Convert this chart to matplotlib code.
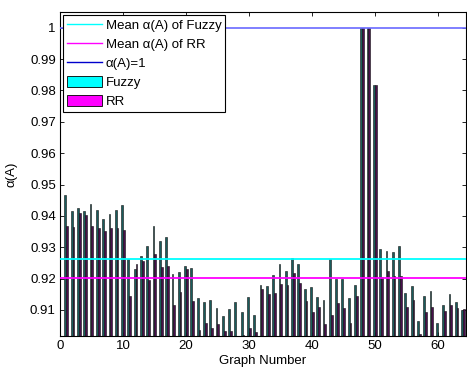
import numpy as np
import matplotlib
matplotlib.use('Agg')
import matplotlib.pyplot as plt
from matplotlib.patches import Patch
from matplotlib.lines import Line2D

plt.rcParams['font.family'] = ['Liberation Sans', 'DejaVu Sans']

# alpha(A) per graph
fuzzy = [0.9468, 0.9417, 0.9426, 0.9415, 0.9438, 0.9418, 0.9391, 0.9407, 0.9420, 0.9436,
         0.9263, 0.9230, 0.9272, 0.9305, 0.9369, 0.9321, 0.9334, 0.9214, 0.9221, 0.9240,
         0.9234, 0.9137, 0.9125, 0.9132, 0.9105, 0.9081, 0.9104, 0.9126, 0.9094, 0.9142,
         0.9084, 0.9180, 0.9178, 0.9213, 0.9247, 0.9224, 0.9267, 0.9247, 0.9168, 0.9174,
         0.9141, 0.9132, 0.9261, 0.9198, 0.9200, 0.9138, 0.9179, 1.0000, 1.0000, 0.9818,
         0.9295, 0.9288, 0.9284, 0.9305, 0.9155, 0.9176, 0.9064, 0.9144, 0.9161, 0.9057,
         0.9115, 0.9152, 0.9124, 0.9100]
rr = [0.9368, 0.9364, 0.9409, 0.9402, 0.9369, 0.9360, 0.9351, 0.9362, 0.9360, 0.9356,
      0.9146, 0.9247, 0.9257, 0.9195, 0.9280, 0.9237, 0.9240, 0.9116, 0.9156, 0.9231,
      0.9130, 0.9037, 0.9059, 0.9044, 0.9055, 0.9033, 0.9032, 0.9018, 0.9021, 0.9044,
      0.9031, 0.9168, 0.9152, 0.9154, 0.9183, 0.9180, 0.9217, 0.9186, 0.9129, 0.9094,
      0.9110, 0.9054, 0.9084, 0.9122, 0.9106, 0.9059, 0.9143, 1.0000, 1.0000, 0.9818,
      0.9206, 0.9224, 0.9207, 0.9207, 0.9110, 0.9132, 0.9023, 0.9094, 0.9110, 0.9017,
      0.9097, 0.9116, 0.9106, 0.9102]
graphs = np.arange(1, len(fuzzy) + 1)

mean_fuzzy = 0.9261
mean_rr = 0.9203
ideal = 1.0

yticks = [0.91, 0.92, 0.93, 0.94, 0.95, 0.96, 0.97, 0.98, 0.99, 1.0]
ytick_labels = ['0.91', '0.92', '0.93', '0.94', '0.95', '0.96', '0.97', '0.98', '0.99', '1']
xticks = [0, 10, 20, 30, 40, 50, 60]

fig = plt.figure(figsize=(4.67, 3.69), dpi=100)
ax = fig.add_axes([0.1285, 0.0894, 0.8695, 0.8781])

# bars are ~2px wide, so the black outline darkens them; use the blended tone directly
w = 0.29
ax.bar(graphs - w / 2, fuzzy, width=w, color='#1a5c5c', edgecolor='#101010', linewidth=0.4, zorder=2)
ax.bar(graphs + w / 2, rr, width=w, color='#4a0f4f', edgecolor='#101010', linewidth=0.4, zorder=2)

ax.axhline(mean_fuzzy, color='#00ffff', linewidth=1.3, zorder=3)
ax.axhline(mean_rr, color='#ff00ff', linewidth=1.3, zorder=3)
ax.axhline(ideal, color='#6a6aff', linewidth=1.2, zorder=3)

ax.set_xlim(0, 64.5)
ax.set_ylim(0.9017, 1.005)
ax.set_xticks(xticks)
ax.set_yticks(yticks)
ax.set_yticklabels(ytick_labels)
ax.tick_params(direction='in', length=3, width=0.6, labelsize=9.5, top=True, right=True, pad=3)
for s in ax.spines.values():
    s.set_linewidth(0.8)

ax.set_xlabel('Graph Number', fontsize=9.5, labelpad=2)
ax.set_ylabel('α(A)', fontsize=9.5, labelpad=9)

handles = [
    Line2D([], [], color='#00ffff', linewidth=1),
    Line2D([], [], color='#ff00ff', linewidth=1),
    Line2D([], [], color='#0000cc', linewidth=1),
    Patch(facecolor='#00ffff', edgecolor='black', linewidth=0.6),
    Patch(facecolor='#ff00ff', edgecolor='black', linewidth=0.6),
]
labels = ['Mean α(A) of Fuzzy', 'Mean α(A) of RR', 'α(A)=1', 'Fuzzy', 'RR']
leg = ax.legend(handles, labels, loc='upper left', fontsize=9.5, frameon=True, fancybox=False,
                framealpha=1, edgecolor='black', borderaxespad=0.25, handlelength=2.6,
                handleheight=0.9, handletextpad=0.3, labelspacing=0.45, borderpad=0.3)
leg.get_frame().set_linewidth(0.8)

fig.savefig('out.png', dpi=100)
